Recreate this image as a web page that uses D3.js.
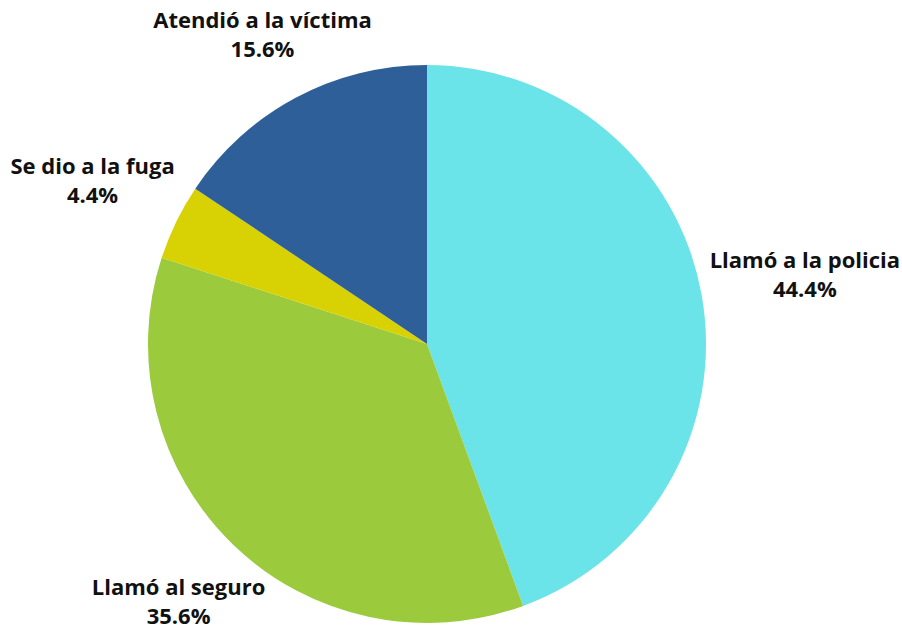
<!DOCTYPE html>
<html>
<head>
<meta charset="utf-8">
<script src="https://cdn.jsdelivr.net/npm/d3@7"></script>
<style>
  body { margin: 0; background: #fff; }
  #chart { width: 902px; height: 629px; display: block; }
</style>
</head>
<body>
<svg id="chart" width="902" height="629"></svg>
<script>
// data
const categories = ["Llamó a la policia", "Llamó al seguro", "Se dio a la fuga", "Atendió a la víctima"];
const values = [44.4, 35.6, 4.4, 15.6];
const colors = ["#6ae4e8", "#9bca3c", "#d8d104", "#2e5f98"];

let svg = d3.select("#chart");
let width = 902, height = 629;
let cx = 427, cy = 344, radius = 279;

let data = categories.map((c, i) => ({ name: c, value: values[i], color: colors[i] }));

let pie = d3.pie().value(d => d.value).sort(null);
let arc = d3.arc().innerRadius(0).outerRadius(radius);
let arcs = pie(data);

let g = svg.append("g").attr("transform", `translate(${cx},${cy})`);

// slices
g.selectAll("path")
  .data(arcs)
  .enter()
  .append("path")
  .attr("d", arc)
  .style("fill", d => d.data.color);

// labels: two centred lines, block pushed radially just outside the pie
let lineH = 29;
arcs.forEach(function(a) {
  let mid = (a.startAngle + a.endAngle) / 2;
  let dx = Math.sin(mid), dy = -Math.cos(mid);
  let t = g.append("text")
    .attr("text-anchor", "middle")
    .style("font-family", "'Open Sans', sans-serif")
    .style("font-weight", "bold")
    .style("font-size", "22px")
    .style("fill", "#111");
  let l1 = t.append("tspan").text(a.data.name);
  let l2 = t.append("tspan").text(a.data.value.toFixed(1) + "%");
  let w = Math.max(l1.node().getComputedTextLength(), l2.node().getComputedTextLength());
  let dist = radius + 19 + Math.abs(dx) * w / 2;
  let x = dx * dist, y = dy * dist;
  // keep the block inside the picture
  x = Math.max(-cx + w / 2 + 2, Math.min(width - cx - w / 2 - 2, x));
  l1.attr("x", x).attr("y", y - lineH / 2 + 7);
  l2.attr("x", x).attr("y", y + lineH / 2 + 7);
});
</script>
</body>
</html>
